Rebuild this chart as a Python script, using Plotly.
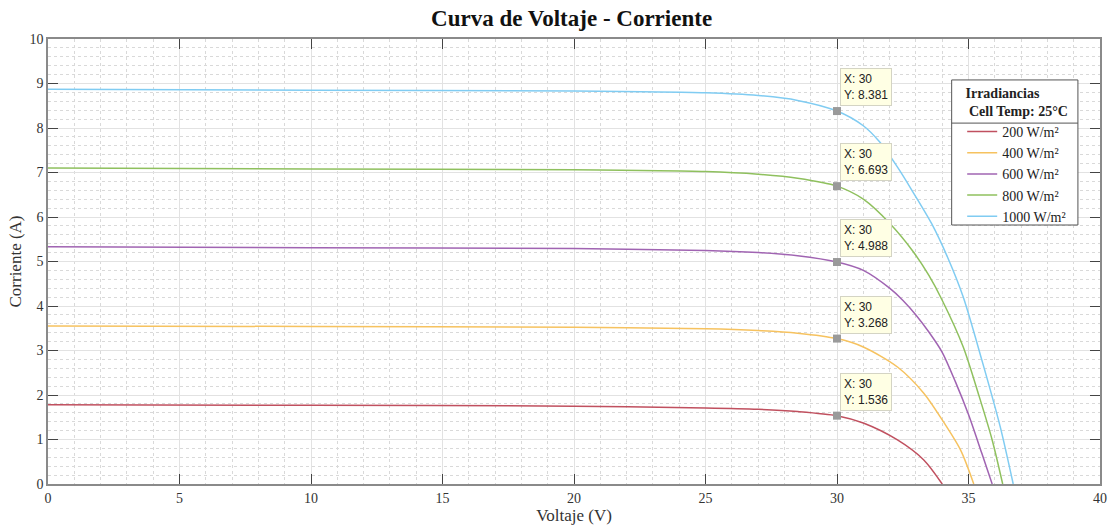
import plotly.graph_objs as go

# irradiance curves (V in volts, I in amperes)
V_200 = [0, 10, 20, 25, 27, 28.5, 30, 31, 32.3, 33.3, 34.0]
I_200 = [1.78, 1.77, 1.75, 1.71, 1.68, 1.63, 1.536, 1.37, 0.99, 0.54, 0]

V_400 = [0, 10, 20, 25, 27, 28.5, 30, 31, 32.3, 33.3, 34.0, 34.7, 35.2]
I_400 = [3.55, 3.54, 3.52, 3.49, 3.45, 3.39, 3.268, 3.08, 2.63, 2.04, 1.44, 0.76, 0]

V_600 = [0, 10, 20, 25, 27, 28.5, 30, 31, 32, 32.5, 33, 33.5, 34.0, 34.5, 35.0, 35.5, 35.9]
I_600 = [5.33, 5.31, 5.29, 5.25, 5.20, 5.13, 4.988, 4.80, 4.40, 4.13, 3.80, 3.41, 2.96, 2.30, 1.56, 0.70, 0]

V_800 = [0, 10, 20, 25, 27, 28.5, 30, 31, 32, 32.9, 33.5, 34.0, 34.8, 35.4, 35.9, 36.3]
I_800 = [7.10, 7.08, 7.06, 7.02, 6.96, 6.87, 6.693, 6.40, 5.86, 5.22, 4.68, 4.13, 3.08, 1.98, 0.99, 0]

V_1000 = [0, 10, 20, 25, 27, 28.5, 30, 31, 31.6, 32.3, 32.9, 33.6, 34.2, 34.8, 35.5, 36.2, 36.7]
I_1000 = [8.87, 8.85, 8.83, 8.79, 8.73, 8.62, 8.381, 8.05, 7.70, 7.12, 6.55, 5.85, 5.10, 4.20, 2.80, 1.30, 0]

NAMES = ["200 W/m²", "400 W/m²", "600 W/m²", "800 W/m²", "1000 W/m²"]
COLORS = ["#c0505f", "#f6c25f", "#a064b2", "#8fc05e", "#80ccf2"]

TIP_X = [30, 30, 30, 30, 30]
TIP_Y = [1.536, 3.268, 4.988, 6.693, 8.381]

SERIF = "Liberation Serif, Times New Roman, serif"
SANS = "Liberation Sans, Arial, sans-serif"

fig = go.Figure()

curves = [(V_200, I_200), (V_400, I_400), (V_600, I_600), (V_800, I_800), (V_1000, I_1000)]
for (v, i), name, color in zip(curves, NAMES, COLORS):
    fig.add_trace(go.Scatter(
        x=v, y=i, mode='lines', name=name,
        line=dict(color=color, width=1.5, shape='spline', smoothing=0.8)
    ))

# data tip markers
fig.add_trace(go.Scatter(
    x=TIP_X, y=TIP_Y, mode='markers', showlegend=False,
    marker=dict(symbol='square', size=8, color='#9a9a9a', line=dict(width=0))
))

for tx, ty in zip(TIP_X, TIP_Y):
    fig.add_annotation(
        x=tx, y=ty, text=f"X: {tx}<br>Y: {ty:.3f}", showarrow=False,
        xanchor='left', yanchor='bottom', xshift=3, yshift=5, align='left',
        font=dict(family=SANS, size=12, color='#222'),
        bgcolor='#ffffe4', bordercolor='#d4d4c4', borderwidth=1, borderpad=3
    )

# legend box (white background + frame) and separator under the title
fig.add_shape(type='rect', xref='paper', yref='paper', layer='above',
              x0=0.859, x1=0.979, y0=0.582, y1=0.908,
              fillcolor='white', line=dict(color='#555', width=1))
fig.add_shape(type='line', xref='paper', yref='paper', layer='above',
              x0=0.859, x1=0.979, y0=0.811, y1=0.811,
              line=dict(color='#555', width=1))

axis_common = dict(
    showline=True, linecolor='#8a8a8a', linewidth=1.5, mirror='ticks',
    ticks='inside', ticklen=10, tickcolor='#444', tickwidth=1,
    showgrid=True, gridcolor='#e2e2e2', gridwidth=1, zeroline=False,
    automargin=False,
    tickfont=dict(family=SERIF, size=14, color='#333'),
)

fig.update_layout(
    width=1112, height=531,
    margin=dict(l=48, r=12, t=39, b=47),
    paper_bgcolor='white', plot_bgcolor='white',
    title=dict(text="<b>Curva de Voltaje - Corriente</b>", x=0.514, xanchor='center',
               y=0.966, yanchor='middle',
               font=dict(family=SERIF, size=23, color='#111')),
    xaxis=dict(range=[0, 40], dtick=5, title=dict(text="Voltaje (V)", standoff=4,
               font=dict(family=SERIF, size=17, color='#333')),
               minor=dict(dtick=1, showgrid=True, gridcolor='#d9d9d9', griddash='dot'),
               **axis_common),
    yaxis=dict(range=[0, 10], dtick=1, title=dict(text="Corriente (A)", standoff=4,
               font=dict(family=SERIF, size=17, color='#333')),
               minor=dict(dtick=0.2, showgrid=True, gridcolor='#d9d9d9', griddash='dot'),
               **axis_common),
    legend=dict(
        x=0.869, y=0.909, xanchor='left', yanchor='top',
        bgcolor='rgba(0,0,0,0)', borderwidth=0,
        font=dict(family=SERIF, size=14, color='#222'),
        title=dict(text="<b>Irradiancias</b><br><b> Cell Temp: 25°C</b>", side='top center',
                   font=dict(family=SERIF, size=14, color='#222')),
        tracegroupgap=0,
    ),
    showlegend=True,
)

fig.write_html("out.html", config={'displayModeBar': False},
               post_script="document.body.style.margin='0';")
